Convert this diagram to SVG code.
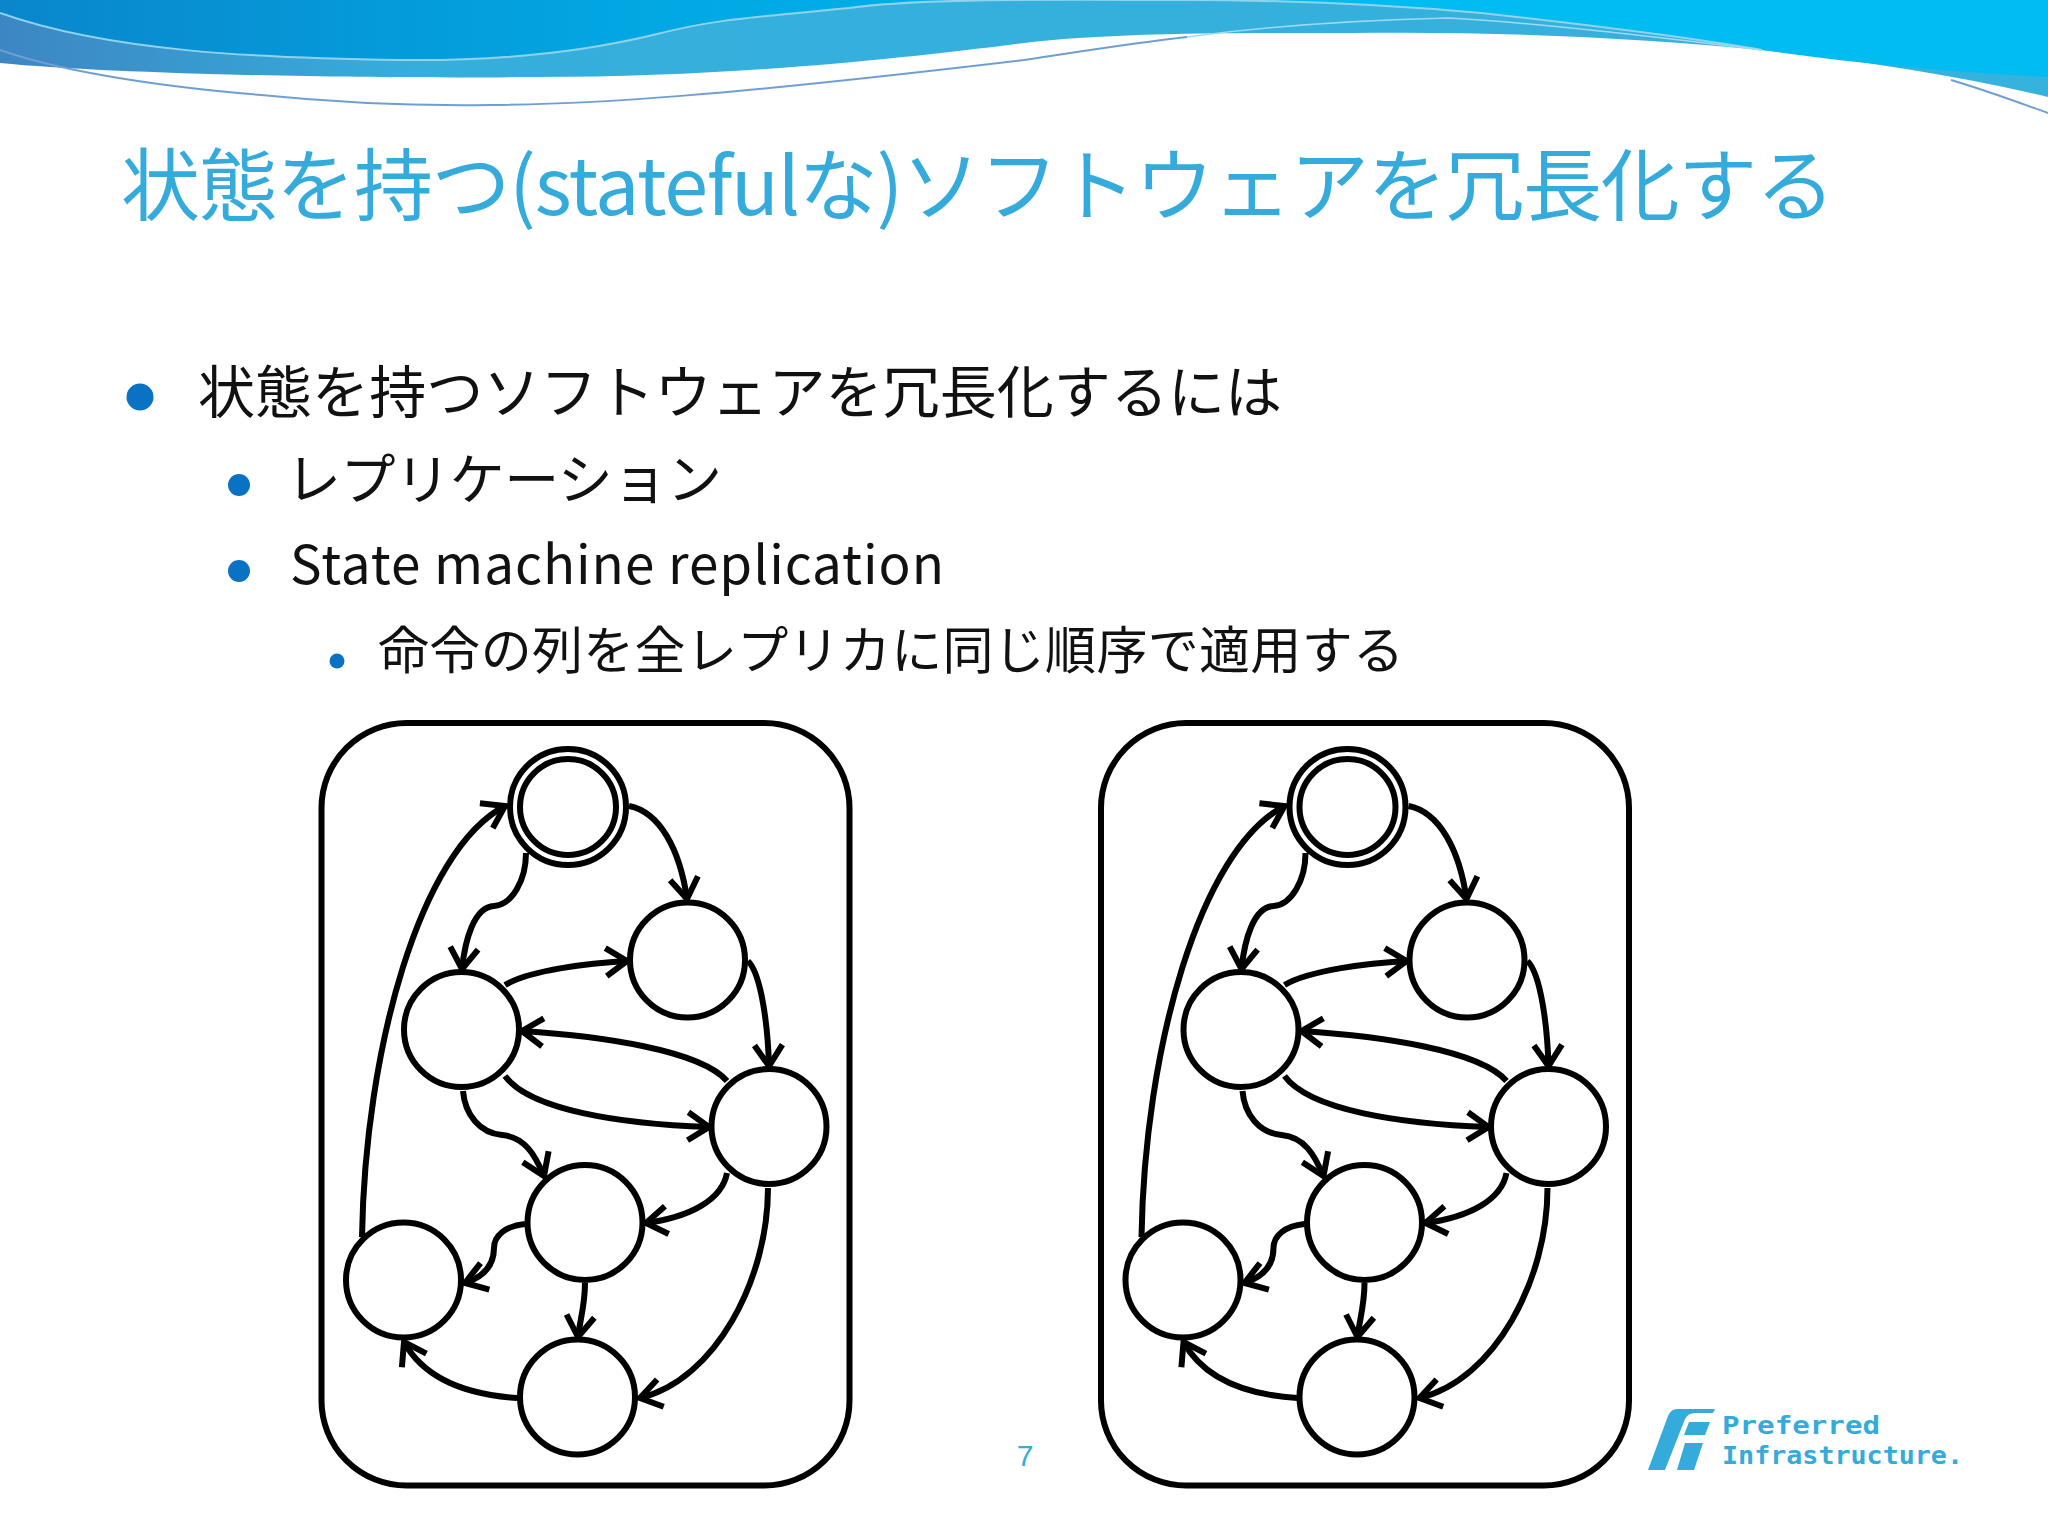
<svg xmlns="http://www.w3.org/2000/svg" width="2048" height="1536" viewBox="0 0 2048 1536">
<style>
text{font-family:"Noto Sans CJK JP","Liberation Sans",sans-serif}
.title{font-size:79px;fill:#35abdb;font-weight:400}
.b{fill:#111;font-weight:400}
.bul{fill:#0a72c2}
.box{fill:#fff;stroke:#000;stroke-width:6}
.n{fill:#fff;stroke:#000;stroke-width:6}
.e{fill:none;stroke:#000;stroke-width:6;marker-end:url(#arr)}
.logo{fill:#35abdb}
.lt{fill:#35abdb;font-family:"DejaVu Sans Mono","Liberation Mono",monospace;font-weight:700;font-size:25px}
</style>
<defs>
<linearGradient id="g1" x1="0" x2="1" y1="0" y2="0"><stop offset="0" stop-color="#0a86cc"/><stop offset=".3" stop-color="#02a6e2"/><stop offset=".7" stop-color="#00bcf0"/><stop offset="1" stop-color="#00bcf0"/></linearGradient>
<linearGradient id="g2" x1="0" x2="1" y1="0" y2="0"><stop offset="0" stop-color="#3d86c3"/><stop offset=".2" stop-color="#35aedc"/><stop offset="1" stop-color="#35b2de"/></linearGradient>
<marker id="arr" markerUnits="userSpaceOnUse" markerWidth="40" markerHeight="40" refX="30" refY="20" orient="auto"><path d="M9 6L30 20L9 34" fill="none" stroke="#000" stroke-width="6"/></marker>
</defs>
<rect width="2048" height="1536" fill="#fff"/>
<g id="header">
<path fill="url(#g2)" d="M0 0H2048V97C1960 76 1860 60 1762 50C1640 38 1500 31 1351 33C1220 33 1110 33 1024 43C900 59 720 78 522 77C400 79 120 75 0 63Z"/>
<path fill="url(#g1)" d="M0 0H2048V77C1950 72 1860 64 1762 50C1680 36 1580 24 1481 13C1380 4 1280 0 1181 0C1050 0 920 -2 849 8C750 18 720 18 653 35C570 55 480 61 400 60C260 58 110 52 0 13Z"/>
<path fill="none" stroke="#8fd3ee" stroke-width="2" d="M0 13C110 52 260 58 400 60C480 61 570 55 653 35C720 18 750 18 849 8C920 -2 1050 0 1181 0C1280 0 1380 4 1481 13C1580 24 1680 36 1762 50"/>
<path fill="none" stroke="#6f9fd2" stroke-width="2" d="M0 50C50 68 140 85 261 95C340 103 420 106 490 105C600 104 720 96 1024 60C1090 50 1140 42 1187 37"/>
<path fill="none" stroke="#9edbf2" stroke-width="1.5" d="M1187 37C1270 26 1360 20 1448 18C1530 22 1650 36 1762 50"/>
<path fill="none" stroke="#6f9fd2" stroke-width="2" d="M1951 80C1985 90 2020 103 2048 113"/>
</g>
<text class="title" x="121" y="215" textLength="1714">状態を持つ(statefulな)ソフトウェアを冗長化する</text>
<circle class="bul" cx="140" cy="397" r="13.5"/>
<text class="b" x="198" y="413" font-size="57" textLength="1084">状態を持つソフトウェアを冗長化するには</text>
<circle class="bul" cx="239" cy="485" r="11"/>
<text class="b" x="286" y="499" font-size="55" textLength="436">レプリケーション</text>
<circle class="bul" cx="239" cy="571" r="11"/>
<text class="b" x="290" y="584" font-size="53" textLength="654">State machine replication</text>
<circle class="bul" cx="337" cy="661" r="7.5"/>
<text class="b" x="378" y="669" font-size="51" textLength="1026">命令の列を全レプリカに同じ順序で適用する</text>
<g id="replica-left-box"><rect class="box" x="321.5" y="723" width="528" height="762.5" rx="85" ry="85"/></g>
<g id="replica-right-box"><rect class="box" x="1101" y="723" width="528" height="762.5" rx="85" ry="85"/></g>
<g id="connectors-left">
<path class="e" d="M629 806C660 812 680 850 687 899"/>
<path class="e" d="M526 853C526 880 512 905 494 906C474 907 465 940 462 969"/>
<path class="e" d="M505 985C530 970 590 963 627 961"/>
<path class="e" d="M727 1081C700 1050 600 1036 522 1031"/>
<path class="e" d="M505 1076C530 1110 620 1124 709 1127"/>
<path class="e" d="M463 1091C465 1115 480 1133 502 1135C525 1137 535 1155 544 1176"/>
<path class="e" d="M748 961C762 975 768 1030 769 1066"/>
<path class="e" d="M727 1173C722 1200 690 1217 646 1223"/>
<path class="e" d="M768 1188C768 1280 715 1380 640 1398"/>
<path class="e" d="M525 1224C505 1226 494 1236 494 1248C494 1268 480 1278 465 1283"/>
<path class="e" d="M585 1283C585 1305 580 1320 578 1337"/>
<path class="e" d="M518 1398C470 1395 425 1380 404 1342"/>
<path class="e" d="M362 1237C365 1050 420 850 505 806"/>
</g>
<g id="connectors-right" transform="translate(779.5 0)">
<path class="e" d="M629 806C660 812 680 850 687 899"/>
<path class="e" d="M526 853C526 880 512 905 494 906C474 907 465 940 462 969"/>
<path class="e" d="M505 985C530 970 590 963 627 961"/>
<path class="e" d="M727 1081C700 1050 600 1036 522 1031"/>
<path class="e" d="M505 1076C530 1110 620 1124 709 1127"/>
<path class="e" d="M463 1091C465 1115 480 1133 502 1135C525 1137 535 1155 544 1176"/>
<path class="e" d="M748 961C762 975 768 1030 769 1066"/>
<path class="e" d="M727 1173C722 1200 690 1217 646 1223"/>
<path class="e" d="M768 1188C768 1280 715 1380 640 1398"/>
<path class="e" d="M525 1224C505 1226 494 1236 494 1248C494 1268 480 1278 465 1283"/>
<path class="e" d="M585 1283C585 1305 580 1320 578 1337"/>
<path class="e" d="M518 1398C470 1395 425 1380 404 1342"/>
<path class="e" d="M362 1237C365 1050 420 850 505 806"/>
</g>
<g id="l-start"><circle class="n" cx="568" cy="807" r="58"/><circle class="n" cx="568" cy="807" r="48"/></g>
<g id="l-s2"><circle class="n" cx="687.5" cy="960" r="57.5"/></g>
<g id="l-s3"><circle class="n" cx="461.5" cy="1029.5" r="57.5"/></g>
<g id="l-s4"><circle class="n" cx="769" cy="1126.5" r="57.5"/></g>
<g id="l-s5"><circle class="n" cx="585" cy="1222.5" r="57.5"/></g>
<g id="l-s6"><circle class="n" cx="403.5" cy="1280" r="57.5"/></g>
<g id="l-s7"><circle class="n" cx="577.5" cy="1397" r="57.5"/></g>
<g id="r-start"><circle class="n" cx="1347.5" cy="807" r="58"/><circle class="n" cx="1347.5" cy="807" r="48"/></g>
<g id="r-s2"><circle class="n" cx="1467" cy="960" r="57.5"/></g>
<g id="r-s3"><circle class="n" cx="1241" cy="1029.5" r="57.5"/></g>
<g id="r-s4"><circle class="n" cx="1548.5" cy="1126.5" r="57.5"/></g>
<g id="r-s5"><circle class="n" cx="1364.5" cy="1222.5" r="57.5"/></g>
<g id="r-s6"><circle class="n" cx="1183" cy="1280" r="57.5"/></g>
<g id="r-s7"><circle class="n" cx="1357" cy="1397" r="57.5"/></g>
<text x="1025" y="1466" font-size="30" fill="#35abdb" text-anchor="middle" style="font-family:'Liberation Sans',sans-serif">7</text>
<g id="logo">
<path class="logo" d="M1648 1470L1665 1470L1685 1419Q1688 1413 1695 1413L1713 1413L1715 1409L1677 1409Q1671 1409 1668 1416Z"/>
<path class="logo" d="M1689 1422L1710 1422L1705 1435L1684 1435Z"/>
<path class="logo" d="M1685 1443L1703 1443L1694 1470L1677 1470Z"/>
<text class="lt" x="1722" y="1434" textLength="158" lengthAdjust="spacingAndGlyphs">Preferred</text>
<text class="lt" x="1722" y="1464" textLength="241" lengthAdjust="spacingAndGlyphs">Infrastructure.</text>
</g>
</svg>
